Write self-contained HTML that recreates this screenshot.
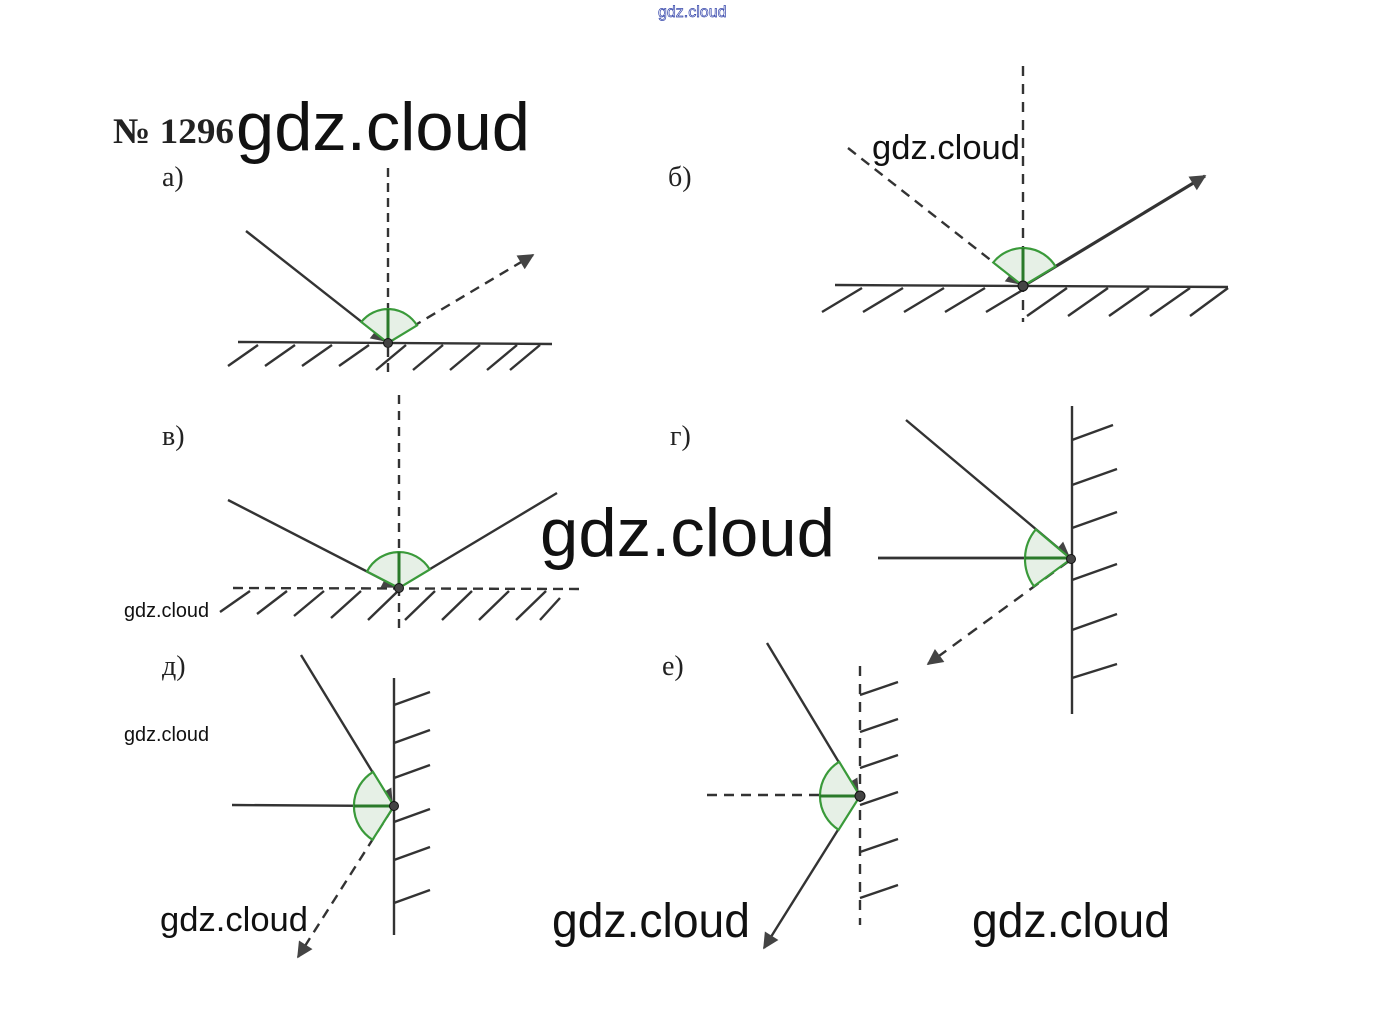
<!DOCTYPE html>
<html><head><meta charset="utf-8"><style>
html,body{margin:0;padding:0;background:#fff;}
svg{display:block}
.wm{font-family:"Liberation Sans",sans-serif;fill:#111;}
.ser{font-family:"Liberation Serif",serif;fill:#222;}
</style></head><body>
<svg width="1392" height="1024" viewBox="0 0 1392 1024" xmlns="http://www.w3.org/2000/svg">
<defs>
<marker id="ar2" viewBox="0 0 10 10" refX="9" refY="5" markerWidth="22" markerHeight="16" orient="auto" markerUnits="userSpaceOnUse">
<path d="M0,0 L10,5 L0,10 Z" fill="#444"/></marker>
</defs>
<g stroke="#333" stroke-width="2.4" fill="none">
<!-- a -->
<line x1="238" y1="342" x2="552" y2="344"/>
<g>
<line x1="258" y1="345" x2="228" y2="366"/><line x1="295" y1="345" x2="265" y2="366"/><line x1="332" y1="345" x2="302" y2="366"/><line x1="369" y1="345" x2="339" y2="366"/><line x1="406" y1="345" x2="376" y2="370"/><line x1="443" y1="345" x2="413" y2="370"/><line x1="480" y1="345" x2="450" y2="370"/><line x1="517" y1="345" x2="487" y2="370"/><line x1="540" y1="345" x2="510" y2="370"/>
</g>
<line x1="388" y1="168" x2="388" y2="372" stroke-dasharray="9,6"/>
<line x1="246" y1="231" x2="386" y2="341" marker-end="url(#ar2)"/>
<line x1="412" y1="327" x2="533" y2="255" stroke-dasharray="10,7" marker-end="url(#ar2)"/>
<!-- b -->
<line x1="835" y1="285" x2="1228" y2="287"/>
<line x1="862" y1="288" x2="822" y2="312"/><line x1="903" y1="288" x2="863" y2="312"/><line x1="944" y1="288" x2="904" y2="312"/><line x1="985" y1="288" x2="945" y2="312"/><line x1="1026" y1="288" x2="986" y2="312"/><line x1="1067" y1="288" x2="1027" y2="316"/><line x1="1108" y1="288" x2="1068" y2="316"/><line x1="1149" y1="288" x2="1109" y2="316"/><line x1="1190" y1="288" x2="1150" y2="316"/><line x1="1228" y1="288" x2="1190" y2="316"/>
<line x1="1023" y1="66" x2="1023" y2="322" stroke-dasharray="10,8"/>
<line x1="848" y1="148" x2="1021" y2="284" stroke-dasharray="10,7" marker-end="url(#ar2)"/>
<line x1="1025" y1="285" x2="1205" y2="176" stroke-width="3.2" marker-end="url(#ar2)"/>
<!-- v -->
<line x1="233" y1="588" x2="580" y2="589" stroke-dasharray="10,6"/>
<line x1="250" y1="591" x2="220" y2="612"/><line x1="287" y1="591" x2="257" y2="614"/><line x1="324" y1="591" x2="294" y2="616"/><line x1="361" y1="591" x2="331" y2="618"/><line x1="398" y1="591" x2="368" y2="620"/><line x1="435" y1="591" x2="405" y2="620"/><line x1="472" y1="591" x2="442" y2="620"/><line x1="509" y1="591" x2="479" y2="620"/><line x1="546" y1="591" x2="516" y2="620"/><line x1="560" y1="598" x2="540" y2="620"/>
<line x1="399" y1="395" x2="399" y2="634" stroke-dasharray="9,7"/>
<line x1="228" y1="500" x2="397" y2="587" marker-end="url(#ar2)"/>
<line x1="400" y1="587" x2="557" y2="493"/>
<!-- g -->
<line x1="1072" y1="406" x2="1072" y2="714"/>
<line x1="1072" y1="440" x2="1113" y2="425"/><line x1="1072" y1="485" x2="1117" y2="469"/><line x1="1072" y1="528" x2="1117" y2="512"/><line x1="1072" y1="580" x2="1117" y2="564"/><line x1="1072" y1="630" x2="1117" y2="614"/><line x1="1072" y1="678" x2="1117" y2="664"/>
<line x1="906" y1="420" x2="1069" y2="557" marker-end="url(#ar2)"/>
<line x1="878" y1="558" x2="1071" y2="558" stroke-width="2.8"/>
<line x1="1069" y1="561" x2="928" y2="664" stroke-dasharray="11,8" marker-end="url(#ar2)"/>
<!-- d -->
<line x1="394" y1="678" x2="394" y2="935"/>
<line x1="394" y1="705" x2="430" y2="692"/><line x1="394" y1="743" x2="430" y2="730"/><line x1="394" y1="778" x2="430" y2="765"/><line x1="394" y1="822" x2="430" y2="809"/><line x1="394" y1="860" x2="430" y2="847"/><line x1="394" y1="903" x2="430" y2="890"/>
<line x1="301" y1="655" x2="392" y2="804" marker-end="url(#ar2)"/>
<line x1="232" y1="805" x2="394" y2="806"/>
<line x1="392" y1="809" x2="298" y2="957" stroke-dasharray="10,7" marker-end="url(#ar2)"/>
<!-- e -->
<line x1="860" y1="666" x2="860" y2="925" stroke-dasharray="10,8"/>
<line x1="860" y1="695" x2="898" y2="682"/><line x1="860" y1="732" x2="898" y2="719"/><line x1="860" y1="768" x2="898" y2="755"/><line x1="860" y1="805" x2="898" y2="792"/><line x1="860" y1="852" x2="898" y2="839"/><line x1="860" y1="898" x2="898" y2="885"/>
<line x1="767" y1="643" x2="858" y2="794" marker-end="url(#ar2)"/>
<line x1="707" y1="795" x2="860" y2="795" stroke-dasharray="10,7"/>
<line x1="858" y1="798" x2="764" y2="948" marker-end="url(#ar2)"/>
</g>
<g fill="#e6f0e6" stroke="#3a9a3a" stroke-width="2.2">
<path d="M388,343 L361.3,322 A34,34 0 0 1 417,325.4 Z"/>
<path d="M1023,286 L993.2,262.5 A38,38 0 0 1 1055.5,266.4 Z"/>
<path d="M399,588 L367,571.5 A36,36 0 0 1 429.8,569.5 Z"/>
<path d="M1071,559 L1035.8,529.4 A46,46 0 0 0 1033.9,586.2 Z"/>
<path d="M394,806 L373,771.9 A40,40 0 0 0 372.5,839.8 Z"/>
<path d="M860,796 L839.2,761.8 A40,40 0 0 0 838.6,829.8 Z"/>
</g>
<g stroke="#2a7a2a" stroke-width="3">
<line x1="388" y1="343" x2="388" y2="309"/>
<line x1="1023" y1="286" x2="1023" y2="248"/>
<line x1="399" y1="588" x2="399" y2="552"/>
<line x1="1071" y1="558" x2="1025" y2="558"/>
<line x1="394" y1="806" x2="354" y2="806"/>
<line x1="860" y1="796" x2="820" y2="796"/>
</g>
<g fill="#444" stroke="#111" stroke-width="1">
<circle cx="388" cy="343" r="4.5"/><circle cx="1023" cy="286" r="5"/><circle cx="399" cy="588" r="4.5"/><circle cx="1071" cy="559" r="4.5"/><circle cx="394" cy="806" r="4.5"/><circle cx="860" cy="796" r="5"/>
</g>
<text class="ser" x="113" y="143" font-size="36" font-weight="bold" textLength="121" lengthAdjust="spacingAndGlyphs">№ 1296</text>
<text class="ser" x="162" y="186" font-size="28">а)</text>
<text class="ser" x="668" y="186" font-size="28">б)</text>
<text class="ser" x="162" y="445" font-size="28">в)</text>
<text class="ser" x="670" y="445" font-size="28">г)</text>
<text class="ser" x="162" y="675" font-size="28">д)</text>
<text class="ser" x="662" y="675" font-size="28">е)</text>
<text x="658" y="17" font-size="16" fill="#fff" stroke="#3344aa" stroke-width="0.7" font-family="Liberation Sans,sans-serif">gdz.cloud</text>
<text class="wm" x="236" y="150" font-size="68" textLength="294" lengthAdjust="spacingAndGlyphs">gdz.cloud</text>
<text class="wm" x="872" y="159" font-size="34" textLength="148" lengthAdjust="spacingAndGlyphs">gdz.cloud</text>
<text class="wm" x="540" y="556" font-size="68" textLength="295" lengthAdjust="spacingAndGlyphs">gdz.cloud</text>
<text class="wm" x="124" y="617" font-size="20" textLength="85" lengthAdjust="spacingAndGlyphs">gdz.cloud</text>
<text class="wm" x="124" y="741" font-size="20" textLength="85" lengthAdjust="spacingAndGlyphs">gdz.cloud</text>
<text class="wm" x="160" y="931" font-size="34" textLength="148" lengthAdjust="spacingAndGlyphs">gdz.cloud</text>
<text class="wm" x="552" y="937" font-size="48" textLength="198" lengthAdjust="spacingAndGlyphs">gdz.cloud</text>
<text class="wm" x="972" y="937" font-size="48" textLength="198" lengthAdjust="spacingAndGlyphs">gdz.cloud</text>
</svg>
</body></html>
